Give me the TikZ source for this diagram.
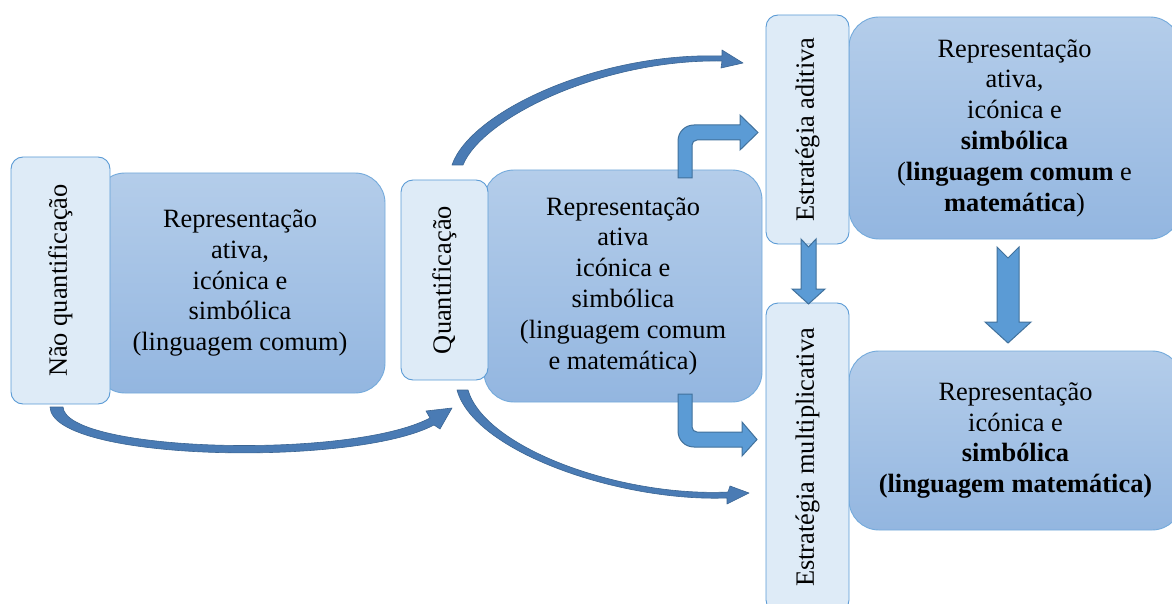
\documentclass[tikz,border=0pt]{standalone}
\usepackage{fontspec}
\setmainfont{Liberation Serif}
\newfontfamily\timesface{Liberation Serif}

\definecolor{lightfill}{HTML}{DEEBF7}
\definecolor{edgeblue}{HTML}{5B9BD5}
\definecolor{bigtop}{HTML}{B4CDEA}
\definecolor{bigbot}{HTML}{93B6E0}
\definecolor{blockfill}{HTML}{5B9BD5}
\definecolor{blockedge}{HTML}{41719C}
\definecolor{curvefill}{HTML}{4A7BB4}
\definecolor{curveedge}{HTML}{3B6593}

\newcommand\reptext{\timesface\fontsize{26.4}{30.8}\selectfont}

\tikzset{
  labelbox/.style={draw=edgeblue, fill=lightfill, line width=0.9pt,
    rounded corners=12pt, inner sep=0pt, rotate=90, font=\reptext},
  repbox/.style={draw=edgeblue!85!white, top color=bigtop, bottom color=bigbot,
    line width=0.9pt, rounded corners=30pt, inner sep=0pt, align=center,
    font=\reptext},
  blockarrow/.style={fill=blockfill, draw=blockedge, line width=1pt, line join=miter},
  curvearrow/.style={fill=curvefill, draw=curveedge, line width=0.6pt, line join=round},
}

\begin{document}
\begin{tikzpicture}[x=1pt, y=-1pt]
\useasboundingbox (0,0) rectangle (1172,604);

% representation boxes
\node[repbox, minimum width=290pt, minimum height=220pt] (r1) at (240,283)
  {Representação\\ativa,\\icónica e\\simbólica\\(linguagem comum)};
\node[repbox, minimum width=278pt, minimum height=232pt] (r2) at (623,286)
  {Representação\\ativa\\icónica e\\simbólica\\(linguagem comum\\e matemática)};
\node[repbox, minimum width=331pt, minimum height=222pt] (r3) at (1014.5,128)
  {Representação\\ativa,\\icónica e\\\textbf{simbólica}\\(\textbf{linguagem comum} e\\\textbf{matemática})};
\node[repbox, minimum width=333pt, minimum height=179pt] (r4) at (1015.5,440.5)
  {Representação\\icónica e\\\textbf{simbólica}\\\textbf{(linguagem matemática)}};

% stage labels (rotated)
\node[labelbox, minimum width=247pt, minimum height=99pt] (nq) at (60.5,280.5) {Não quantificação};
\node[labelbox, minimum width=200pt, minimum height=87pt] (q) at (444.5,280) {Quantificação};
\node[labelbox, minimum width=229pt, minimum height=83pt] (ea) at (807.5,129.5) {Estratégia aditiva};
\node[labelbox, minimum width=309pt, minimum height=83pt] (em) at (807.5,457.5) {Estratégia multiplicativa};

% bent block arrows out of the second box
\filldraw[blockarrow] (678,178) -- (678,141) .. controls (678,132) and (685,125) .. (694,125)
  -- (740,125) -- (740,115) -- (758,132.5) -- (740,150) -- (740,140) -- (697,140)
  .. controls (694.2,140) and (692,142.2) .. (692,145) -- (692,178) -- cycle;
\filldraw[blockarrow] (678,394) -- (678,431) .. controls (678,440) and (685,447) .. (694,447)
  -- (742,447) -- (742,456) -- (757,439.5) -- (742,422) -- (742,432) -- (697,432)
  .. controls (694.2,432) and (692,429.8) .. (692,427) -- (692,394) -- cycle;

% notched down arrows
\filldraw[blockarrow] (801,239) -- (808.5,247) -- (816,239) -- (816,289) -- (825,289)
  -- (808.5,304) -- (792,289) -- (801,289) -- cycle;
\filldraw[blockarrow] (997,247) -- (1008,258) -- (1019,247) -- (1019,322) -- (1031,322)
  -- (1008,343) -- (985,322) -- (997,322) -- cycle;

% curved arrows
\filldraw[curvearrow] (50,407) -- (63,407) .. controls (66,452) and (350,460) .. (430,418)
  -- (426,411) -- (452,408) -- (440,429) -- (434,425)
  .. controls (355,467) and (52,462) .. (50,407) -- cycle;
\filldraw[curvearrow] (463,165) -- (452,165) .. controls (470,112) and (598,52) .. (722,56)
  -- (722,50) -- (743,63) -- (721,68) -- (722,61)
  .. controls (602,59) and (482,118) .. (463,165) -- cycle;
\filldraw[curvearrow] (457,390) -- (468,390) .. controls (485,448) and (620,497) .. (728,492)
  -- (730,486) -- (749,493) -- (727,504) -- (727,498)
  .. controls (620,502) and (474,452) .. (457,390) -- cycle;
\end{tikzpicture}
\end{document}
